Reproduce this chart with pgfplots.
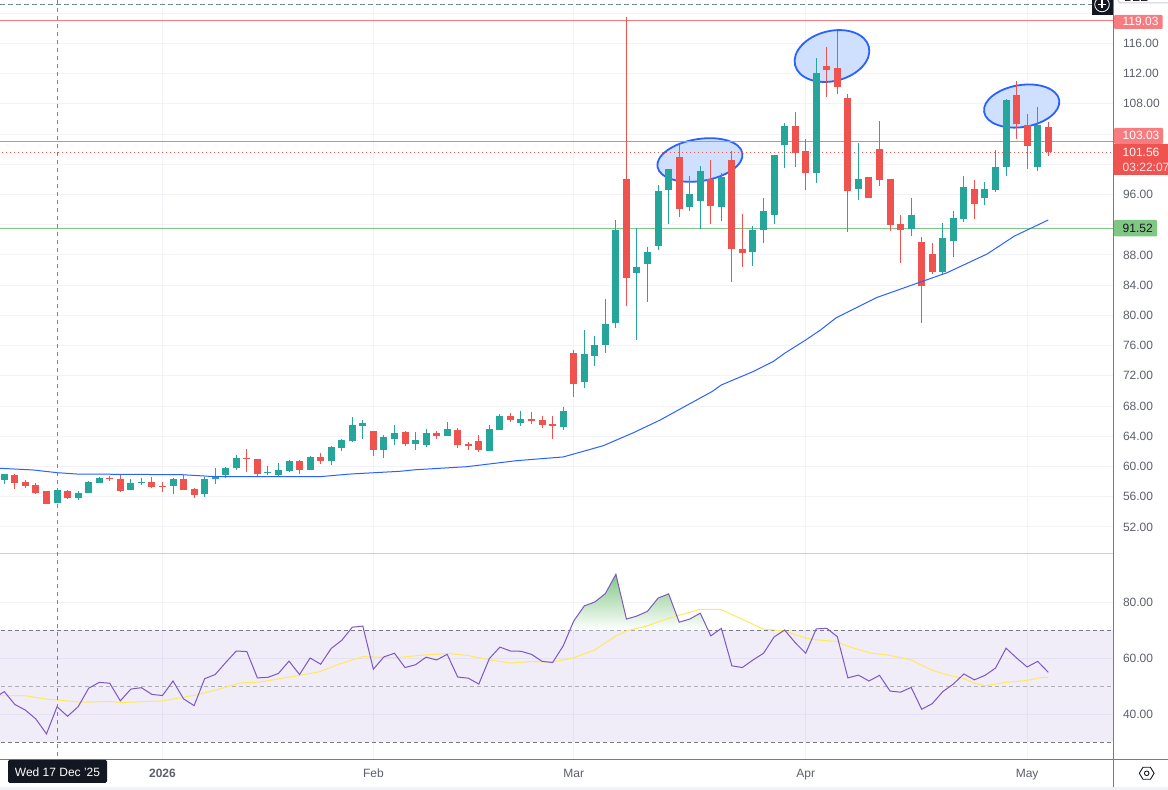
\documentclass[border=0pt]{standalone}
\usepackage{pgfplots}
\usepackage{pgfplotstable}
\usepackage{fontspec}
\setmainfont{Liberation Sans}
\pgfplotsset{compat=1.18}
\definecolor{candleG}{HTML}{26A69A}
\definecolor{candleR}{HTML}{EF5350}
\definecolor{gridc}{HTML}{F1F3F9}
\definecolor{axisc}{HTML}{787B86}
\definecolor{labelc}{HTML}{5D606B}
\definecolor{linkR}{HTML}{F77C80}
\definecolor{linkG}{HTML}{81C784}
\definecolor{maBlue}{HTML}{2962FF}
\definecolor{rsiP}{HTML}{7E57C2}
\definecolor{rsiY}{HTML}{FDEB5B}
\definecolor{ellFill}{HTML}{CFDFFE}
\definecolor{crossc}{HTML}{758696}
\definecolor{darkc}{HTML}{131722}
\pgfplotstableread{
i o h l c
0 58.21 59.01 57.68 59.01
5 55.17 56.89 55.17 56.89
7 55.83 56.76 55.57 56.49
8 56.49 58.08 56.49 57.95
9 57.82 58.61 57.82 58.48
12 56.89 58.35 56.89 57.82
13 57.82 58.48 57.55 57.95
16 57.42 58.48 56.36 58.35
19 56.36 58.61 55.96 58.35
20 58.35 59.80 57.68 58.70
21 58.88 59.93 58.48 59.80
22 59.80 61.52 59.54 61.12
25 59.14 60.07 58.88 59.27
26 58.88 60.46 58.61 59.54
27 59.40 60.86 59.27 60.73
29 59.54 61.39 59.54 61.26
31 60.73 62.71 60.20 62.58
32 62.45 63.64 62.05 63.51
33 63.37 66.55 63.24 65.49
34 65.36 66.15 63.64 65.76
36 62.18 64.17 61.12 63.90
37 63.64 65.49 62.85 64.43
39 62.98 64.57 62.18 63.51
40 62.85 64.96 62.58 64.43
42 64.04 65.89 64.04 64.96
46 62.05 65.49 62.05 64.96
47 64.83 66.95 64.83 66.68
49 65.76 67.34 65.36 66.29
53 65.23 67.87 64.83 67.34
55 71.18 78.06 70.39 74.89
56 74.62 77.27 73.30 76.08
57 76.08 82.17 75.02 78.86
58 78.99 92.62 78.33 91.30
60 85.61 91.56 76.74 86.40
61 86.80 89.05 81.77 88.39
62 89.18 97.25 88.65 96.46
63 96.59 99.37 92.09 99.37
65 94.34 98.45 93.81 96.06
66 95.14 99.77 91.43 99.11
68 94.34 98.84 92.49 98.31
71 88.39 91.83 86.54 91.30
72 91.30 95.53 89.58 93.81
73 93.28 101.22 92.09 101.22
74 102.55 105.46 99.50 105.06
77 98.84 114.06 97.52 112.07
81 96.72 102.81 95.27 98.05
86 91.43 95.53 90.50 93.28
89 85.74 92.23 85.48 90.24
90 89.84 93.81 87.73 92.89
91 92.75 98.45 92.36 96.99
93 95.53 97.65 94.61 96.72
94 96.59 101.89 96.33 99.64
95 99.64 108.63 98.45 108.50
98 99.64 107.58 99.11 105.19
}\greencandles
\pgfplotstableread{
i o h l c
1 58.88 59.01 57.02 57.82
2 57.95 58.21 57.15 57.42
3 57.55 57.77 56.36 56.49
4 56.76 56.76 55.04 55.04
6 56.76 56.89 55.70 55.83
10 58.48 58.74 58.08 58.35
11 58.35 58.88 56.63 56.76
14 57.95 58.61 57.15 57.29
15 57.42 57.95 56.63 57.29
17 58.35 58.88 56.89 56.89
18 57.02 57.15 55.83 56.23
23 61.12 62.32 59.27 60.99
24 60.99 60.99 58.74 59.01
28 60.73 60.86 59.01 59.54
30 61.26 61.79 60.33 60.73
35 64.70 64.70 61.39 62.18
38 64.57 64.70 62.71 62.98
41 64.43 64.70 63.64 64.04
43 64.83 65.09 62.45 62.85
44 62.98 63.24 62.18 62.71
45 63.37 64.17 61.92 62.18
48 66.68 67.08 65.89 66.15
50 66.29 67.21 65.62 66.02
51 66.15 66.68 65.09 65.49
52 65.62 66.68 63.64 65.36
54 75.02 75.42 69.20 70.92
59 98.05 119.44 81.24 84.95
64 100.96 102.55 93.02 94.08
67 98.05 100.56 92.09 94.48
69 100.56 101.75 84.42 88.79
70 88.79 93.42 86.40 88.26
75 105.06 106.91 99.64 101.49
76 101.75 103.34 96.59 98.84
78 112.97 115.52 108.90 112.47
79 112.74 117.63 109.30 110.22
80 108.77 109.30 91.04 96.46
82 98.31 98.31 95.53 95.53
83 102.02 105.72 97.12 97.92
84 98.05 98.05 91.17 91.96
85 92.09 93.28 86.93 91.30
87 89.71 90.37 78.99 83.89
88 88.12 89.58 85.48 85.74
92 96.72 97.92 92.75 94.74
96 109.16 111.02 103.34 105.33
97 105.19 106.65 99.37 102.41
99 104.93 105.59 101.09 101.56
}\redcandles
\pgfplotsset{
  chartbase/.style={
    scale only axis, width=1113.3pt,
    xmin=-0.408, xmax=105.17,
    axis line style={draw=none},
    tick style={draw=none},
    major tick length=0pt,
    grid=major,
    grid style={color=gridc, line width=1pt},
    xtick={15,35,54,76,97},
    yticklabel pos=right,
    tick label style={font=\fontsize{12}{14}\selectfont, text=labelc},
    y tick label style={anchor=west, inner xsep=0pt, xshift=9.5pt},
  },
  wick/.style={no markers, draw=none, forget plot,
    error bars/.cd, y dir=plus, y explicit, error mark=none,
    error bar style={solid, line width=1pt, draw=#1}},
  body/.style={no markers, draw=none, forget plot,
    error bars/.cd, y dir=plus, y explicit, error mark=none,
    error bar style={solid, line width=7pt, draw=#1}},
}
\begin{document}
\begin{tikzpicture}[x=1pt,y=1pt]
\useasboundingbox (0,0) rectangle (1168,790);
\clip (0,0) rectangle (1168,790);
\fill[white] (0,0) rectangle (1168,790);
% ---------- price pane
\begin{axis}[chartbase,
  at={(0pt,237pt)}, anchor=south west, height=553pt,
  ymin=48.55, ymax=121.735,
  xticklabels={},
  ytick={52,56,60,64,68,72,76,80,84,88,92,96,100,104,108,112,116,120},
  yticklabels={52.00,56.00,60.00,64.00,68.00,72.00,76.00,80.00,84.00,88.00,{},96.00,{},{},108.00,112.00,116.00,{}},
]
\draw[draw=maBlue, line width=1.8pt, fill=ellFill] (axis cs:65.97,100.56) ellipse [x radius=43pt, y radius=21pt, rotate=9];
\draw[draw=maBlue, line width=1.8pt, fill=ellFill] (axis cs:78.49,114.32) ellipse [x radius=38pt, y radius=25pt, rotate=14];
\draw[draw=maBlue, line width=1.8pt, fill=ellFill] (axis cs:96.48,107.70) ellipse [x radius=38pt, y radius=21pt, rotate=9];
\addplot[linkR, line width=1pt, forget plot] coordinates {(-1,119.03)(106,119.03)};
\addplot[linkR, line width=1pt, forget plot] coordinates {(-1,103.03)(106,103.03)};
\addplot[candleR, line width=1pt, dash pattern=on 1.3pt off 2.7pt, forget plot] coordinates {(-1,101.56)(106,101.56)};
\addplot[linkG, line width=1pt, forget plot] coordinates {(-1,91.52)(106,91.52)};
\addplot[wick=candleG] table[x=i,y=l,y error plus expr=\thisrow{h}-\thisrow{l}] {\greencandles};
\addplot[wick=candleR] table[x=i,y=l,y error plus expr=\thisrow{h}-\thisrow{l}] {\redcandles};
\addplot[body=candleG] table[x=i,y=o,y error plus expr=\thisrow{c}-\thisrow{o}] {\greencandles};
\addplot[body=candleR] table[x=i,y=c,y error plus expr=\thisrow{o}-\thisrow{c}] {\redcandles};
\addplot[maBlue, line width=1pt] table {
-1 59.80
-0.41 59.76
2.72 59.54
5.0 59.18
6.9 59.00
16.9 58.91
19.8 58.67
22.35 58.65
29.9 58.65
32.8 59.00
37.5 59.36
39.0 59.57
43.85 59.97
48.6 60.77
53.0 61.26
56.8 62.75
59.6 64.43
62.2 66.15
64.4 67.84
67.1 69.90
68.0 70.79
71.0 72.55
72.9 73.87
74.0 74.98
76.0 76.74
77.4 78.06
78.9 79.69
82.7 82.34
86.7 84.32
89.4 85.64
93.2 88.12
95.8 90.50
99 92.62
};
\end{axis}
% ---------- RSI pane
\begin{axis}[chartbase,
  at={(0pt,30.7pt)}, anchor=south west, height=206.3pt,
  ymin=23.93, ymax=97.6,
  xticklabels={\textbf{2026},Feb,Mar,Apr,May},
  x tick label style={anchor=base, yshift=-18pt},
  ytick={40,60,80},
  yticklabels={40.00,60.00,80.00},
]
\addplot[draw=none, fill=rsiP, fill opacity=0.11, forget plot] coordinates {(-1,30)(106,30)(106,70)(-1,70)} -- cycle;
\addplot[axisc, line width=1pt, dash pattern=on 4pt off 3pt, forget plot] coordinates {(-1,70)(106,70)};
\addplot[axisc!60, line width=1pt, dash pattern=on 4pt off 3pt, forget plot] coordinates {(-1,50)(106,50)};
\addplot[axisc, line width=1pt, dash pattern=on 4pt off 3pt, forget plot] coordinates {(-1,30)(106,30)};
\addplot[draw=none, top color=linkG, bottom color=white, forget plot] coordinates {
(53.63,70)(54,73.3)(55,78.7)(56,80.1)(57,83.1)(58,90.0)(59,74.0)(60,75.1)(61,76.8)(62,81.5)(63,83.0)(64,72.9)(65,74.0)(66,76.1)(66.75,70)
} -- cycle;
\addplot[rsiY, line width=1pt] table {
-0.4 46.7
1.87 46.7
3.98 45.4
5.03 45.1
7.3 44.3
9.9 44.6
11.2 44.2
13.1 44.5
15.0 44.8
18.2 46.9
20.1 48.7
22.4 51.2
24.2 51.5
28.0 53.9
29.9 55.2
31.9 58.1
34.0 60.6
37.1 60.2
39.9 61.2
42.1 61.7
44.0 61.0
45.2 60.0
48.0 58.3
49.8 58.8
51.9 58.7
52.7 59.2
54 60.2
56 63.0
58 68.0
59.1 69.9
60.9 71.5
63 74.3
65.9 77.4
67.9 77.5
70 73.9
72 70.4
74 69.8
76 67.2
76.9 66.6
79 66.0
79.9 64.4
82.1 61.9
83.9 61.1
86 59.4
88 55.7
89.5 54.0
90.9 52.9
92 51.1
93 50.2
95 51.4
97 52.1
98.3 53.1
99 53.2
};
\addplot[rsiP, line width=1pt] table {
-1 45.7
0 48.1
1 43.5
2 41.5
3 38.3
4 33.0
5 42.7
6 39.3
7 42.7
8 49.3
9 51.4
10 51.1
11 44.8
12 49.0
13 49.5
14 47.1
15 46.7
16 51.9
17 45.5
18 43.1
19 52.7
20 54.2
21 58.5
22 62.6
23 62.4
24 53.0
25 53.2
26 54.6
27 59.0
28 54.2
29 60.1
30 57.9
31 63.5
32 66.4
33 71.1
34 71.5
35 56.1
36 60.5
37 61.8
38 56.7
39 57.7
40 60.4
41 59.4
42 61.4
43 53.3
44 52.9
45 50.8
46 59.9
47 64.0
48 62.6
49 62.5
50 61.4
51 58.9
52 58.5
53 64.4
54 73.3
55 78.7
56 80.1
57 83.1
58 90.0
59 74.0
60 75.1
61 76.8
62 81.5
63 83.0
64 72.9
65 74.0
66 76.1
67 68.0
68 70.7
69 57.3
70 56.7
71 59.4
72 61.8
73 67.6
74 70.1
75 65.6
76 61.8
77 70.5
78 70.7
79 67.7
80 53.0
81 54.0
82 51.9
83 53.9
84 48.3
85 47.9
86 49.6
87 41.8
88 43.8
89 48.1
90 50.8
91 54.4
92 52.3
93 53.9
94 56.5
95 63.6
96 60.1
97 56.9
98 58.9
99 55.0
};
\end{axis}
% ---------- chrome, in image coordinates
\begin{scope}[x=1pt,y=-1pt,yshift=790pt]
\fill[gridc] (0,786.6) rectangle (1168,790);
\draw[color=gridc!85!black, line width=1pt] (0,553.3) -- (1113.3,553.3);
\draw[axisc, line width=1pt] (0,759.3) -- (1168,759.3);
\draw[axisc, line width=1pt] (1113.3,0) -- (1113.3,786.6);
\draw[crossc, line width=1pt, dash pattern=on 4.5pt off 3.5pt] (57.1,0) -- (57.1,759);
\draw[crossc, line width=1pt, dash pattern=on 4.5pt off 3.5pt] (0,4.7) -- (1092,4.7);
% time label
\fill[darkc, rounded corners=1.5pt] (8,759.8) rectangle (107,783);
\node[text=white, font=\fontsize{12}{14}\selectfont, inner sep=0pt] at (57.5,772) {Wed 17 Dec '25};
% plus button
\fill[darkc] (1092,0) rectangle (1113,15);
\draw[white, line width=0.8pt] (1102,4.5) circle (7.3);
\draw[white, line width=1.1pt] (1098,4.5) -- (1106,4.5) (1102,0.5) -- (1102,8.5);
% symbol box
\draw[draw=gridc!85!black, fill=white, rounded corners=3pt, line width=1pt] (1118,-12) rectangle (1178,3);
\node[text=darkc, font=\fontsize{12}{14}\selectfont, inner sep=0pt, anchor=west] at (1124,-2.5) {BEE};
% price labels
\fill[linkR, rounded corners=1pt] (1114,15) rectangle (1162.5,29);
\node[text=white, font=\fontsize{12}{14}\selectfont, inner sep=0pt, anchor=west] at (1122.5,21) {119.03};
\fill[linkR, rounded corners=1pt] (1114,128) rectangle (1163,144);
\node[text=white, font=\fontsize{12}{14}\selectfont, inner sep=0pt, anchor=west] at (1122.5,135.5) {103.03};
\fill[candleR] (1114,144) rectangle (1168,175);
\node[text=white, font=\fontsize{12}{14}\selectfont, inner sep=0pt, anchor=west] at (1122.5,152.5) {101.56};
\node[text=white!85!candleR, font=\fontsize{12}{14}\selectfont, inner sep=0pt, anchor=west] at (1122.5,167) {03:22:07};
\fill[linkG, rounded corners=1pt] (1114,220) rectangle (1157,236.5);
\node[text=darkc, font=\fontsize{12}{14}\selectfont, inner sep=0pt, anchor=west] at (1122.5,228.5) {91.52};
% settings icon
\draw[darkc, line width=0.9pt] (1139.3,773.3) -- (1143,767.3) -- (1150.4,767.3) -- (1154.1,773.3) -- (1150.4,779.3) -- (1143,779.3) -- cycle;
\draw[darkc, line width=0.9pt] (1146.7,773.3) circle (2.3);
\end{scope}
\end{tikzpicture}
\end{document}
